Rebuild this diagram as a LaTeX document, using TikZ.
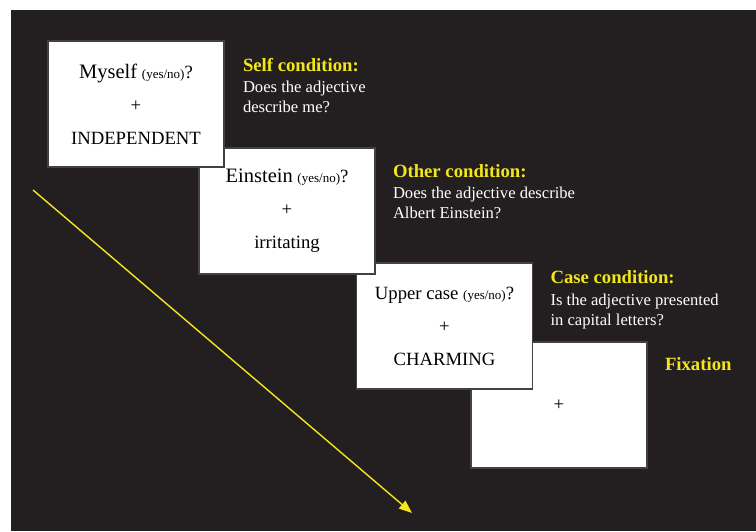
\documentclass[tikz,border=0pt]{standalone}
\usepackage{fontspec}
\setmainfont{Liberation Serif}
\usetikzlibrary{positioning, arrows.meta}
\definecolor{slidebg}{RGB}{35,31,32}
\definecolor{condyellow}{RGB}{242,230,28}
\tikzstyle{card} = [rectangle, fill=white, draw=slidebg!85!white, line width=1.6pt, minimum width=176pt, minimum height=126pt, text centered, align=center, font=\fontsize{18.7}{33}\selectfont]
\tikzstyle{condhead} = [anchor=west, inner sep=0pt, text=condyellow, font=\fontsize{18.7}{22}\selectfont\bfseries]
\tikzstyle{conddesc} = [inner sep=0pt, text=white, align=left, font=\fontsize{16.6}{19.5}\selectfont]
\tikzstyle{timearrow} = [draw=condyellow, line width=1.4pt, -{Triangle[length=13pt,width=10pt]}, fill=condyellow]
\newcommand{\ynlabel}{{\fontsize{13}{33}\selectfont(yes/no)}}
\newcommand{\qsize}{\fontsize{20.5}{33}\selectfont}

\begin{document}
\begin{tikzpicture}[x=1pt, y=-1pt]
    \useasboundingbox (0,0) rectangle (756,531);
    \fill[slidebg] (11,10) rectangle (756,531);

    % cards, last one first so the earlier ones lie on top
    \node[card] (fixcard) at (559,405) {+};
    \node[card] (casecard) at (444.5,326) {Upper case \ynlabel?\\+\\CHARMING};
    \node[card] (othercard) at (287,211) {{\qsize Einstein} \ynlabel?\\+\\irritating};
    \node[card] (selfcard) at (136,104) {{\qsize Myself} \ynlabel?\\+\\INDEPENDENT};

    \node[condhead] (selfhead) at ([xshift=18pt,yshift=-25pt]selfcard.north east) {Self condition:};
    \node[conddesc, below=9pt of selfhead.south west, anchor=north west] (selfdesc) {Does the adjective\\describe me?};
    \node[condhead] (otherhead) at ([xshift=17pt,yshift=-24pt]othercard.north east) {Other condition:};
    \node[conddesc, below=9pt of otherhead.south west, anchor=north west] (otherdesc) {Does the adjective describe\\Albert Einstein?};
    \node[condhead] (casehead) at ([xshift=17pt,yshift=-15pt]casecard.north east) {Case condition:};
    \node[conddesc, below=10pt of casehead.south west, anchor=north west] (casedesc) {Is the adjective presented\\in capital letters?};
    \node[condhead] (fixhead) at ([xshift=17pt,yshift=-23pt]fixcard.north east) {Fixation};

    % time line
    \coordinate (timestart) at (33,190);
    \coordinate (timeend) at (412,513);
    \draw[timearrow] (timestart) -- (timeend);
\end{tikzpicture}
\end{document}
